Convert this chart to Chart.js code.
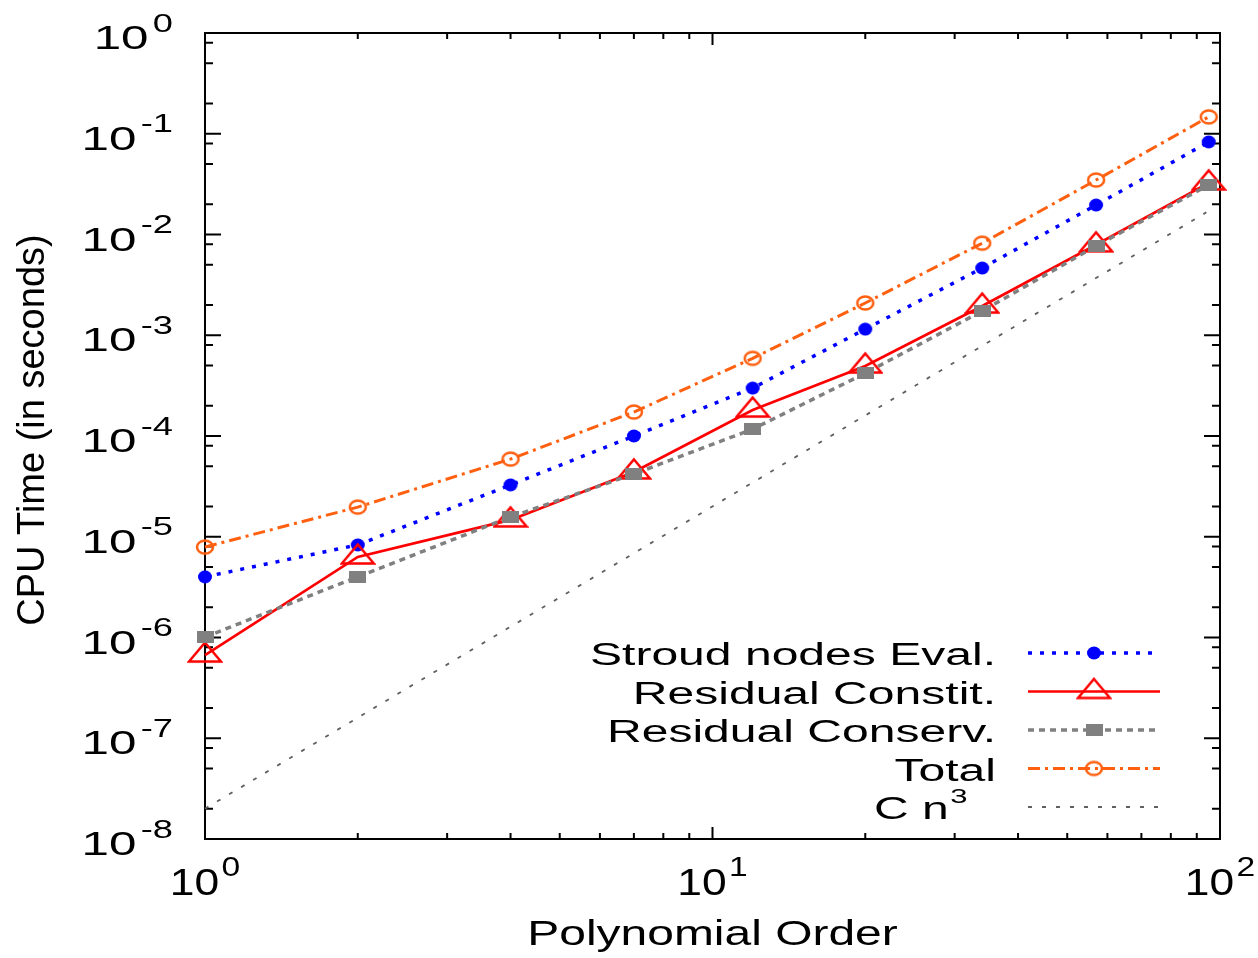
<!DOCTYPE html>
<html>
<head>
<meta charset="utf-8">
<title>CPU time vs polynomial order</title>
<script src="https://cdn.jsdelivr.net/npm/chart.js@4.4.1/dist/chart.umd.min.js"></script>
<style>
  html, body { margin: 0; padding: 0; background: #fff; }
  #cpuChart { display: block; }
</style>
</head>
<body>
<canvas id="cpuChart" width="1258" height="958"></canvas>
<script>
// data (log-log)
const orders = [1, 2, 4, 7, 12, 20, 34, 57, 95];
const stroudEval = [4.0e-6, 8.3e-6, 3.27e-5, 1.0e-4, 2.99e-4, 1.15e-3, 4.65e-3, 1.96e-2, 8.3e-2];
const residualConstit = [6.7e-7, 6.3e-6, 1.47e-5, 4.4e-5, 1.81e-4, 4.95e-4, 1.95e-3, 7.9e-3, 3.25e-2];
const residualConserv = [1.01e-6, 4.0e-6, 1.57e-5, 4.2e-5, 1.17e-4, 4.2e-4, 1.74e-3, 7.7e-3, 3.1e-2];
const totalTime = [7.9e-6, 1.97e-5, 5.9e-5, 1.73e-4, 5.9e-4, 2.09e-3, 8.2e-3, 3.47e-2, 0.147];
// reference slope line C n^3
const cubeX = [1, 94];
const cubeY = [2.0e-8, 1.66e-2];

// tick labels (powers of ten)
const xTickExp = ['0', '1', '2'];
const yTickExp = ['0', '-1', '-2', '-3', '-4', '-5', '-6', '-7', '-8'];
const xMinor = [2, 3, 4, 5, 6, 7, 8, 9];
const yMinor = [2, 5, 8];

const FONT = '"Liberation Sans", Arial, Helvetica, sans-serif';

function pts(xs, ys) {
  return xs.map((x, i) => ({ x: x, y: ys[i] }));
}

function marker(w, h, paint) {
  const c = document.createElement('canvas');
  c.width = w;
  c.height = h;
  paint(c.getContext('2d'), w, h);
  return c;
}

const dotMark = marker(16, 14, (g, w, h) => {
  g.fillStyle = '#0000ff';
  g.beginPath();
  g.ellipse(w / 2, h / 2, 7, 6.5, 0, 0, Math.PI * 2);
  g.fill();
});
const triMark = marker(36, 30, (g, w, h) => {
  g.strokeStyle = '#ff0000';
  g.lineWidth = 2.5;
  g.beginPath();
  g.moveTo(w / 2, 2.5);
  g.lineTo(w / 2 + 16, 21.5);
  g.lineTo(w / 2 - 16, 21.5);
  g.closePath();
  g.stroke();
});
const squareMark = marker(17, 12, (g, w, h) => {
  g.fillStyle = '#808080';
  g.fillRect(0, 0, w, h);
});
const ringMark = marker(22, 18, (g, w, h) => {
  g.strokeStyle = '#ff6010';
  g.lineWidth = 2.5;
  g.beginPath();
  g.ellipse(w / 2, h / 2, 8, 6.5, 0, 0, Math.PI * 2);
  g.stroke();
});

function drawPower(ctx, x, y, exp, o) {
  ctx.save();
  ctx.translate(x, y);
  ctx.scale(o.sx, 1);
  ctx.fillStyle = '#000';
  ctx.textAlign = 'left';
  ctx.textBaseline = 'alphabetic';
  ctx.font = o.size + 'px ' + FONT;
  const wb = ctx.measureText('10').width;
  ctx.font = o.supSize + 'px ' + FONT;
  const we = ctx.measureText(exp).width;
  const total = wb + o.gap + we;
  const x0 = o.align === 'right' ? -total : -total / 2;
  ctx.font = o.size + 'px ' + FONT;
  ctx.fillText('10', x0, o.base);
  ctx.font = o.supSize + 'px ' + FONT;
  ctx.fillText(exp, x0 + wb + o.gap, o.supBase);
  ctx.restore();
}

const gnuplotFrame = {
  id: 'gnuplotFrame',
  beforeDraw(chart) {
    const ctx = chart.ctx;
    ctx.save();
    ctx.fillStyle = '#fff';
    ctx.fillRect(0, 0, chart.width, chart.height);
    ctx.restore();
  },
  beforeDatasetsDraw(chart) {
    const ctx = chart.ctx;
    const a = chart.chartArea;
    const xs = chart.scales.x;
    const ys = chart.scales.y;
    ctx.save();
    ctx.strokeStyle = '#000';
    ctx.lineWidth = 2;
    ctx.beginPath();
    // x ticks, mirrored on top
    xTickExp.forEach((e, i) => {
      const dec = Math.pow(10, Number(e));
      const px = xs.getPixelForValue(dec);
      ctx.moveTo(px, a.bottom); ctx.lineTo(px, a.bottom - 12);
      ctx.moveTo(px, a.top); ctx.lineTo(px, a.top + 12);
      if (i < xTickExp.length - 1) {
        xMinor.forEach(m => {
          const q = xs.getPixelForValue(m * dec);
          ctx.moveTo(q, a.bottom); ctx.lineTo(q, a.bottom - 6);
          ctx.moveTo(q, a.top); ctx.lineTo(q, a.top + 6);
        });
      }
    });
    // y ticks, mirrored on right
    yTickExp.forEach((e, i) => {
      const dec = Math.pow(10, Number(e));
      const py = ys.getPixelForValue(dec);
      ctx.moveTo(a.left, py); ctx.lineTo(a.left + 16, py);
      ctx.moveTo(a.right, py); ctx.lineTo(a.right - 16, py);
      if (i < yTickExp.length - 1) {
        yMinor.forEach(m => {
          const q = ys.getPixelForValue(m * dec / 10);
          ctx.moveTo(a.left, q); ctx.lineTo(a.left + 8, q);
          ctx.moveTo(a.right, q); ctx.lineTo(a.right - 8, q);
        });
      }
    });
    ctx.stroke();
    ctx.strokeRect(a.left, a.top, a.right - a.left, a.bottom - a.top);
    ctx.restore();
  },
  afterDraw(chart) {
    const ctx = chart.ctx;
    const a = chart.chartArea;
    const xs = chart.scales.x;
    const ys = chart.scales.y;

    yTickExp.forEach(e => {
      drawPower(ctx, a.left - 32, ys.getPixelForValue(Math.pow(10, Number(e))), e,
        { sx: 1.45, size: 34, supSize: 25, gap: 3, base: 16, supBase: -1.5, align: 'right' });
    });
    xTickExp.forEach(e => {
      drawPower(ctx, xs.getPixelForValue(Math.pow(10, Number(e))), a.bottom, e,
        { sx: 1.2, size: 37, supSize: 28, gap: 2, base: 56, supBase: 37, align: 'center' });
    });

    // axis titles
    ctx.save();
    ctx.fillStyle = '#000';
    ctx.font = '35px ' + FONT;
    ctx.textAlign = 'center';
    ctx.textBaseline = 'alphabetic';
    ctx.translate((a.left + a.right) / 2, 945);
    ctx.scale(1.37, 1);
    ctx.fillText('Polynomial Order', 0, 0);
    ctx.restore();

    ctx.save();
    ctx.fillStyle = '#000';
    ctx.font = '38px ' + FONT;
    ctx.textAlign = 'center';
    ctx.textBaseline = 'middle';
    ctx.translate(34, 430);
    ctx.rotate(-Math.PI / 2);
    ctx.fillText('CPU Time (in seconds)', 0, 0);
    ctx.restore();

    // key, gnuplot style: text right-aligned, sample on the right
    const rowY0 = 653, rowGap = 38.5;
    chart.data.datasets.forEach((d, i) => {
      const y = rowY0 + i * rowGap;
      ctx.save();
      ctx.strokeStyle = d.borderColor;
      ctx.lineWidth = d.borderWidth;
      ctx.setLineDash(d.borderDash || []);
      ctx.beginPath();
      ctx.moveTo(1028, y);
      ctx.lineTo(1160, y);
      ctx.stroke();
      ctx.setLineDash([]);
      if (d.pointStyle && typeof d.pointStyle === 'object') {
        ctx.drawImage(d.pointStyle, 1094 - d.pointStyle.width / 2, y - d.pointStyle.height / 2);
      }
      ctx.restore();

      ctx.save();
      ctx.fillStyle = '#000';
      ctx.textBaseline = 'alphabetic';
      ctx.textAlign = 'left';
      const parts = d.label.split('^');
      ctx.font = '31px ' + FONT;
      const wb = ctx.measureText(parts[0]).width * 1.55;
      let we = 0;
      if (parts[1]) {
        ctx.font = '20px ' + FONT;
        we = ctx.measureText(parts[1]).width * 1.55 + 2;
      }
      const right = parts[1] ? 968 : 996;
      ctx.translate(right - wb - we, y + 12);
      ctx.scale(1.55, 1);
      ctx.font = '31px ' + FONT;
      ctx.fillText(parts[0], 0, 0);
      if (parts[1]) {
        ctx.font = '20px ' + FONT;
        ctx.fillText(parts[1], wb / 1.55 + 1, -16);
      }
      ctx.restore();
    });
  }
};

const ctx = document.getElementById('cpuChart');

new Chart(ctx, {
  type: 'line',
  data: {
    datasets: [{
      label: 'Stroud nodes Eval.',
      data: pts(orders, stroudEval),
      borderColor: '#0000ff',
      borderWidth: 3.5,
      borderDash: [4, 8],
      pointStyle: dotMark,
      pointRadius: 7,
      order: 5
    }, {
      label: 'Residual Constit.',
      data: pts(orders, residualConstit),
      borderColor: '#ff0000',
      borderWidth: 2.7,
      pointStyle: triMark,
      pointRadius: 7,
      order: 4
    }, {
      label: 'Residual Conserv.',
      data: pts(orders, residualConserv),
      borderColor: '#808080',
      borderWidth: 3.5,
      borderDash: [6, 5],
      pointStyle: squareMark,
      pointRadius: 7,
      order: 3
    }, {
      label: 'Total',
      data: pts(orders, totalTime),
      borderColor: '#ff6010',
      borderWidth: 3,
      borderDash: [12, 5, 3, 5],
      pointStyle: ringMark,
      pointRadius: 7,
      order: 2
    }, {
      label: 'C n^3',
      data: pts(cubeX, cubeY),
      borderColor: '#606060',
      borderWidth: 1.8,
      borderDash: [4, 10],
      pointRadius: 0,
      order: 1
    }]
  },
  options: {
    responsive: false,
    animation: false,
    devicePixelRatio: 1,
    layout: { padding: { left: 205, top: 33, right: 38, bottom: 119 } },
    elements: { line: { tension: 0, fill: false } },
    datasets: { line: { clip: false } },
    scales: {
      x: { type: 'logarithmic', min: 1, max: 100, display: false },
      y: { type: 'logarithmic', min: 1e-8, max: 1, display: false }
    },
    plugins: {
      legend: { display: false },
      tooltip: { enabled: false }
    }
  },
  plugins: [gnuplotFrame]
});
</script>
</body>
</html>
